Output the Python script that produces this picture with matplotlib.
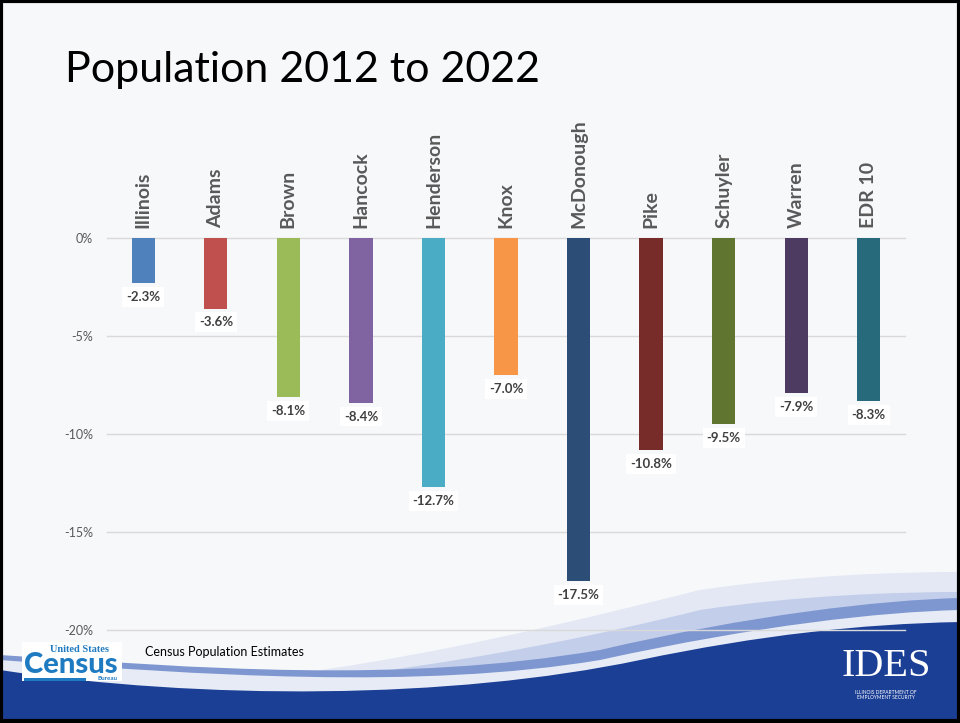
import numpy as np
import matplotlib
matplotlib.use("Agg")
import matplotlib.pyplot as plt
from matplotlib.path import Path
from matplotlib.patches import PathPatch, Rectangle

plt.rcParams['font.family'] = ['Lato', 'DejaVu Sans']

# data
regions = ['Illinois', 'Adams', 'Brown', 'Hancock', 'Henderson', 'Knox',
           'McDonough', 'Pike', 'Schuyler', 'Warren', 'EDR 10']
change = [-2.3, -3.6, -8.1, -8.4, -12.7, -7.0, -17.5, -10.8, -9.5, -7.9, -8.3]
colors = ['#4F81BD', '#C0504D', '#9BBB59', '#8064A2', '#4BACC6', '#F79646',
          '#2C4D75', '#772C2A', '#5F7530', '#4D3B62', '#276A7C']
yticks = [0, -5, -10, -15, -20]

W, H = 960, 723
fig = plt.figure(figsize=(W / 100, H / 100), dpi=100)
fig.patch.set_facecolor('#F7F8FA')

# background decoration in pixel coords
bg = fig.add_axes([0, 0, 1, 1], zorder=0)
bg.set_xlim(0, W)
bg.set_ylim(H, 0)
bg.axis('off')


def swoosh(pts, color, alpha=1.0):
    codes = [Path.MOVETO] + [Path.CURVE4] * (len(pts) - 1)
    verts = list(pts) + [(W, H), (0, H), pts[0]]
    codes = codes + [Path.LINETO, Path.LINETO, Path.CLOSEPOLY]
    bg.add_patch(PathPatch(Path(verts, codes), facecolor=color, edgecolor='none', alpha=alpha))


swoosh([(0, 690), (250, 700), (500, 640), (700, 590), (800, 575), (900, 572), (960, 572)], '#E3E8F4')
swoosh([(0, 692), (250, 700), (500, 660), (700, 610), (800, 595), (900, 592), (960, 592)], '#C3CEEA')
swoosh([(0, 655), (200, 668), (400, 684), (600, 650), (750, 615), (880, 600), (960, 598)], '#7F97D0')
swoosh([(0, 660), (200, 675), (420, 690), (600, 660), (760, 625), (880, 612), (960, 610)], '#E6EBF6')
swoosh([(0, 670), (200, 700), (450, 700), (640, 660), (760, 635), (860, 624), (960, 622)], '#1C3F96')

bg.add_patch(Rectangle((1, 1), W - 2, H - 3, fill=False, edgecolor='black', linewidth=3))

# census logo
bg.add_patch(Rectangle((22, 642), 100, 39, facecolor='white', edgecolor='none'))
bg.text(80, 649, 'United States', color='#1F7BC1', fontsize=7.5, fontweight='bold',
        family=['Liberation Serif'], ha='center', va='center')
bg.text(71, 665, 'Census', color='#1F7BC1', fontsize=21, fontweight='black',
        ha='center', va='center')
bg.add_patch(Rectangle((24, 678), 62, 2.5, facecolor='#1F7BC1', edgecolor='none'))
bg.text(107, 679, 'Bureau', color='#1F7BC1', fontsize=4.5, fontweight='bold',
        ha='center', va='center')
bg.text(145, 652, 'Census Population Estimates', color='black', fontsize=9,
        ha='left', va='center')

# IDES logo
bg.text(886, 666, 'IDES', color='white', fontsize=29, family=['Liberation Serif'],
        ha='center', va='center')
bg.text(886, 695, 'ILLINOIS DEPARTMENT OF\nEMPLOYMENT SECURITY', color='white',
        fontsize=3.5, ha='center', va='center', linespacing=1.0)

# title
fig.text(65 / W, 1 - 70 / H, 'Population 2012 to 2022', fontsize=31, color='black',
         ha='left', va='center')

# chart
ax = fig.add_axes([107 / W, 1 - 630 / H, 798 / W, 392 / H], zorder=2)
ax.patch.set_alpha(0)
x = np.arange(len(regions))
ax.bar(x, change, width=0.32, color=colors, zorder=3)
ax.set_xlim(-0.5, len(regions) - 0.5)
ax.set_ylim(-20, 0)
ax.set_yticks(yticks)
ax.set_yticklabels([f'{v}%' for v in yticks], color='#595959', fontsize=9)
ax.tick_params(axis='y', length=0, pad=10)
ax.set_xticks([])
for s in ax.spines.values():
    s.set_visible(False)
for v in yticks:
    ax.axhline(v, color='#D9D9D9', linewidth=1, zorder=1, clip_on=False)

for xi, name, val in zip(x, regions, change):
    ax.annotate(name, (xi, 0), xytext=(0, 7), textcoords='offset points',
                rotation=90, ha='center', va='bottom', fontsize=14,
                fontweight='bold', color='#595959', annotation_clip=False)
    ax.annotate(f'{val:.1f}%', (xi, val), xytext=(0, -10), textcoords='offset points',
                ha='center', va='center', fontsize=9.5, fontweight='bold', color='#404040',
                bbox=dict(boxstyle='square,pad=0.3', facecolor='white', edgecolor='none'),
                annotation_clip=False, zorder=4)

fig.savefig('out.png', dpi=100, facecolor=fig.get_facecolor())
